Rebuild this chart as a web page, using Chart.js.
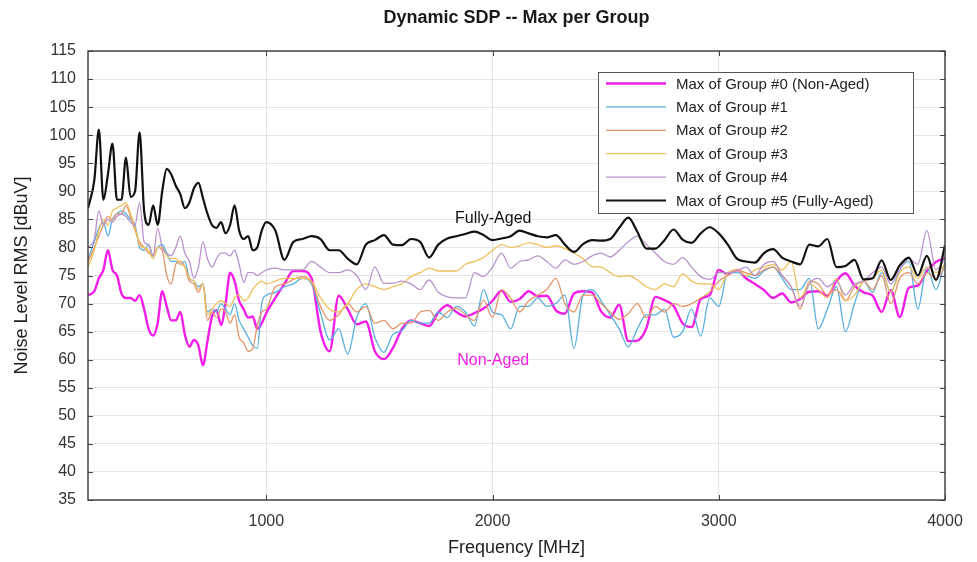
<!DOCTYPE html>
<html>
<head>
<meta charset="utf-8">
<title>Dynamic SDP -- Max per Group</title>
<script src="https://cdn.jsdelivr.net/npm/chart.js@4.4.0/dist/chart.umd.min.js"></script>
<style>
  body { margin: 0; background: #fff; }
  canvas { display: block; }
</style>
</head>
<body>
<canvas id="myChart" width="977" height="562"></canvas>
<script>
// frequency grid [MHz]
const freq = [212, 240, 260, 280, 300, 320, 340, 360, 380, 400, 420, 440, 460, 480, 500, 520, 540, 560, 580, 600,
  620, 640, 660, 680, 700, 720, 740, 760, 780, 800, 820, 840, 860, 880, 900, 920, 940, 960, 980, 1000,
  1040, 1080, 1120, 1160, 1200, 1240, 1280, 1320, 1360, 1400, 1440, 1480, 1520, 1560, 1600, 1640, 1680, 1720, 1760, 1800,
  1840, 1880, 1920, 1960, 2000, 2040, 2080, 2120, 2160, 2200, 2240, 2280, 2320, 2360, 2400, 2440, 2480, 2520, 2560, 2600,
  2640, 2680, 2720, 2760, 2800, 2840, 2880, 2920, 2960, 3000, 3040, 3080, 3120, 3160, 3200, 3240, 3280, 3320, 3360, 3400,
  3440, 3480, 3520, 3560, 3600, 3640, 3680, 3720, 3760, 3800, 3840, 3880, 3920, 3960, 4000];

// noise level RMS [dBuV], max per group
const group0 = [71.5, 72.2, 74.5, 76, 79.5, 76, 75, 71.8, 71, 71, 70.5, 71.5, 69, 65.5, 64.3, 66.5, 72.2, 69.5, 67, 67,
  68.5, 64.5, 62.3, 63.5, 62.5, 59, 63.3, 67.7, 68.8, 66.2, 70, 75.5, 74, 70.5, 69, 67.5, 67.7, 65.5, 66.5, 68.3,
  71, 73.5, 75.8, 75.8, 74.5, 65, 61.5, 71.4, 69, 66.3, 66.8, 61.5, 60.1, 62.1, 65.5, 67, 66.5, 66, 68.4, 69.7,
  68.5, 67.7, 68.3, 69.1, 70.5, 72.3, 70.3, 70.8, 72.2, 71.3, 71.4, 68.8, 68.2, 71.8, 72.2, 72, 68.6, 67.5, 69.8, 63.3,
  63.4, 65.6, 71.2, 70.6, 69.6, 66.5, 65.8, 70.8, 71.5, 76, 75.2, 76, 74.5, 73.5, 72.4, 71, 71.8, 70.2, 70.8, 72.1,
  72.2, 71.4, 74, 75.4, 73.2, 72, 71.4, 68.5, 72.4, 67.6, 72.8, 73.2, 75.8, 77.4, 78.1];
const group1 = [78, 81, 83.5, 84.5, 82, 85, 86, 86.5, 86, 85, 84, 80, 79.5, 80.5, 78.5, 80, 80.5, 79, 77.5, 77.5,
  77, 77.5, 74.5, 74, 73, 73.5, 68.5, 69, 68.5, 70, 69, 68, 70, 67, 65.5, 64, 62.5, 62, 70, 71.5,
  72, 73, 73.5, 74.5, 73.5, 68.3, 63.5, 65.5, 61, 67.5, 70, 64, 61.3, 64.5, 65.2, 67, 66.5, 66.5, 68.5, 67.5,
  69.5, 68.5, 66, 72.5, 68.5, 68, 65.5, 69.5, 69.5, 71, 69.5, 70, 71.5, 62, 71.5, 72.5, 70.5, 68, 65.5, 62.3,
  65.5, 68, 68, 69, 64, 65, 69, 64.2, 71, 69.5, 75.5, 75.5, 75, 74.5, 75.8, 76.5, 74.5, 72.5, 72.5, 74.5,
  65.5, 69, 73, 65, 70, 74, 72, 75.5, 72, 76, 77.5, 69, 76.5, 72.5, 77.5];
const group2 = [77.5, 80, 82, 84, 85.5, 85, 86, 86, 87.5, 85.5, 83, 81, 80, 79, 78.5, 80, 79.5, 75, 73.5, 77,
  77.5, 76.5, 74, 73.5, 72, 73.5, 67, 68.5, 67.5, 69, 68.5, 66.5, 68, 64, 63, 61.5, 62, 66, 68.5, 69,
  73, 73.5, 74.3, 74.8, 73.8, 69.5, 67, 68, 70, 68.5, 69.5, 66.5, 67, 65.5, 66.5, 66.5, 68.5, 68.8, 67, 68.5,
  69.2, 68, 67, 70.6, 67.5, 72.5, 71, 68.5, 70.5, 71.5, 72.5, 74.5, 70, 68.5, 71.5, 71.5, 70, 68.5, 67.2, 68.2,
  70, 67.5, 69.5, 68.5, 70, 69.5, 70, 71, 72, 74, 75, 76, 75.5, 75, 76, 76.5, 75, 73, 69, 74,
  73.5, 71.5, 72.5, 70.5, 73, 74, 72.5, 75, 70, 74.5, 75.5, 73.5, 75.5, 74.5, 76.5];
const group3 = [76.5, 79.5, 83, 85, 84, 86.5, 87, 87.5, 88, 86, 83.5, 80.5, 80, 79.5, 78, 80, 80, 78.5, 78, 78,
  77, 76.5, 74.5, 74, 72.5, 73.5, 68, 69, 70, 70.5, 70, 69.5, 71, 71.5, 70.5, 71, 72.5, 73.5, 74, 73.5,
  74, 74.5, 74.5, 74.5, 74, 71, 69, 68.5, 70, 72.5, 73.5, 73, 72.5, 73, 73.5, 74.8, 75.5, 76.3, 75.8, 75.8,
  75.8, 77, 77.5, 78.2, 79.5, 80.5, 80, 80.3, 80.8, 80.5, 80, 80.3, 79.8, 79, 78, 76.6, 76.5, 75.5, 74.8, 75,
  74.2, 73, 72.5, 73.5, 73, 75.3, 74, 73.5, 73.5, 72.5, 75.5, 76, 75, 76, 76.5, 77, 76, 77.5, 71, 73.5,
  72.5, 71, 74.5, 70.5, 71.5, 74, 74.5, 76, 72, 75.5, 76.5, 74.5, 76.5, 75.5, 77];
const group4 = [80, 81.5, 86.5, 84, 85, 84.5, 85.5, 86, 85.5, 84.5, 84, 88, 81, 80.5, 78.5, 83.5, 80, 79, 78.5, 80,
  82, 79, 77.5, 74.5, 76.5, 81, 78, 76.5, 78, 79, 79, 78.5, 79.5, 77, 73.8, 75.5, 75.5, 75, 75.5, 76,
  76.3, 76, 76, 76, 77.5, 76.5, 75.5, 75.5, 76, 75, 72.5, 76.5, 73.6, 73.6, 74, 73.5, 72.5, 74.2, 72, 71.2,
  71, 71, 75.5, 74.8, 76.5, 79, 76.3, 77.5, 77.8, 78.5, 77.5, 76.3, 77.8, 77, 77.5, 78.5, 79, 78.3, 79.5, 81,
  82, 80.5, 79, 77.5, 77, 78.2, 76.5, 74.8, 74.3, 75.5, 75.5, 75.8, 76.5, 75, 77, 77.5, 75, 73, 69.5, 73.5,
  74.5, 73, 74, 71.5, 73.5, 74, 75.5, 76.5, 73.5, 76, 78, 77, 83, 76, 78];
const group5 = [87, 92, 101, 88.5, 93, 98.5, 88.5, 88.5, 96, 89, 90, 100.5, 86.5, 84, 87.5, 84, 90, 94, 93, 91,
  89.5, 87, 88, 90.5, 91.5, 88.8, 86, 84, 83.5, 84.5, 82.5, 84, 87.5, 83, 81.5, 82, 79.5, 80, 83, 84.5,
  83, 77.8, 81, 81.5, 82, 81.5, 79.5, 79.5, 78, 77, 80.5, 81.3, 82.2, 80.5, 80.4, 81.5, 81, 78.2, 80.5, 81.6,
  82, 82.4, 82.8, 82.2, 81.3, 81.6, 82, 83, 82.5, 82, 81.8, 82.2, 80.5, 79.2, 80.6, 81.3, 81.2, 81.5, 83.5, 85.3,
  82.8, 79.8, 79.8, 81.3, 83.2, 81.4, 80.8, 82.5, 83.6, 82.5, 80.5, 78, 77.5, 77.3, 79, 79.7, 78.2, 77.5, 77, 80.5,
  80.2, 81.5, 76.5, 76.7, 77.8, 74.3, 74.5, 77.7, 74.2, 76.8, 78.2, 75, 78.5, 74.2, 80.4];

const xTicks = [1000, 2000, 3000, 4000];
const seriesNames = ["Max of Group #0 (Non-Aged)", "Max of Group #1", "Max of Group #2",
  "Max of Group #3", "Max of Group #4", "Max of Group #5 (Fully-Aged)"];
const series = [group0, group1, group2, group3, group4, group5];

const colors = ["#f21ee8", "#56aedd", "#e2946a", "#efc15c", "#b892cb", "#111111"];
const widths = [2.4, 1.3, 1.3, 1.3, 1.3, 2.2];
const notes = [
  { text: "Fully-Aged", x: 2003, y: 85.2, color: "#111" },
  { text: "Non-Aged", x: 2003, y: 59.9, color: "#f21ee8" },
];

const FONT = "'Liberation Sans', Arial, sans-serif";

const frame = {
  id: "frame",
  afterDatasetsDraw(chart) {
    const { ctx, chartArea: a, scales } = chart;
    ctx.save();
    // inner tick marks
    ctx.strokeStyle = "#444";
    ctx.lineWidth = 1;
    ctx.beginPath();
    scales.y.ticks.forEach((t) => {
      const py = Math.round(scales.y.getPixelForValue(t.value)) + 0.5;
      ctx.moveTo(a.left, py); ctx.lineTo(a.left + 5, py);
      ctx.moveTo(a.right, py); ctx.lineTo(a.right - 5, py);
    });
    scales.x.ticks.forEach((t) => {
      const px = Math.round(scales.x.getPixelForValue(t.value)) + 0.5;
      ctx.moveTo(px, a.bottom); ctx.lineTo(px, a.bottom - 5);
      ctx.moveTo(px, a.top); ctx.lineTo(px, a.top + 5);
    });
    ctx.stroke();
    // axes box
    ctx.lineWidth = 1.4;
    ctx.strokeStyle = "#3a3a3a";
    ctx.strokeRect(a.left, a.top, a.right - a.left, a.bottom - a.top);

    // text notes on the curves
    ctx.font = "16px " + FONT;
    ctx.textAlign = "center";
    ctx.textBaseline = "middle";
    notes.forEach((n) => {
      ctx.fillStyle = n.color;
      ctx.fillText(n.text, scales.x.getPixelForValue(n.x), scales.y.getPixelForValue(n.y));
    });

    // legend box, top right inside the axes
    const w = 315, h = 141;
    const bx = a.right - 32 - w, by = a.top + 21;
    ctx.fillStyle = "#fff";
    ctx.fillRect(bx, by, w, h);
    ctx.lineWidth = 1;
    ctx.strokeStyle = "#555";
    ctx.strokeRect(bx + 0.5, by + 0.5, w, h);
    ctx.font = "15px " + FONT;
    ctx.textAlign = "left";
    chart.data.datasets.forEach((ds, i) => {
      const ry = by + 11.5 + i * 23.4;
      ctx.strokeStyle = ds.borderColor;
      ctx.lineWidth = ds.borderWidth;
      ctx.beginPath();
      ctx.moveTo(bx + 8, ry); ctx.lineTo(bx + 68, ry);
      ctx.stroke();
      ctx.fillStyle = "#222";
      ctx.fillText(ds.label, bx + 78, ry + 1);
    });
    ctx.restore();
  },
};

new Chart(document.getElementById("myChart"), {
  type: "line",
  data: {
    datasets: series.map((vals, i) => ({
      label: seriesNames[i],
      data: freq.map((f, k) => ({ x: f, y: vals[k] })),
      borderColor: colors[i],
      borderWidth: widths[i],
      pointRadius: 0,
      fill: false,
      cubicInterpolationMode: "monotone",
      order: series.length - i,
    })),
  },
  options: {
    responsive: false,
    animation: false,
    layout: { padding: { left: 0, right: 32, top: 0, bottom: 0 } },
    plugins: {
      legend: { display: false },
      tooltip: { enabled: false },
      title: {
        display: true,
        fullSize: false,
        text: "Dynamic SDP -- Max per Group",
        color: "#1a1a1a",
        font: { family: FONT, size: 18, weight: "bold" },
        padding: { top: 7, bottom: 22.4 },
      },
    },
    scales: {
      x: {
        type: "linear",
        min: 212,
        max: 4000,
        afterFit: (s) => { s.height = 62; },
        afterBuildTicks: (s) => { s.ticks = xTicks.map((v) => ({ value: v })); },
        grid: { color: "#e3e3e3", drawTicks: false },
        border: { display: false },
        ticks: {
          padding: 12, color: "#333", font: { family: FONT, size: 16 },
          callback: (v) => String(v),
        },
        title: {
          display: true,
          text: "Frequency [MHz]",
          color: "#222",
          font: { family: FONT, size: 18 },
          padding: { top: 0, bottom: 3 },
        },
      },
      y: {
        min: 35,
        max: 115,
        afterFit: (s) => { s.width = 88; },
        grid: { color: "#e3e3e3", drawTicks: false },
        border: { display: false },
        ticks: { stepSize: 5, autoSkip: false, padding: 12, color: "#333", font: { family: FONT, size: 16 } },
        title: {
          display: true,
          text: "Noise Level RMS [dBuV]",
          color: "#222",
          font: { family: FONT, size: 18 },
          padding: { top: 11, bottom: 0 },
        },
      },
    },
  },
  plugins: [frame],
});
</script>
</body>
</html>
